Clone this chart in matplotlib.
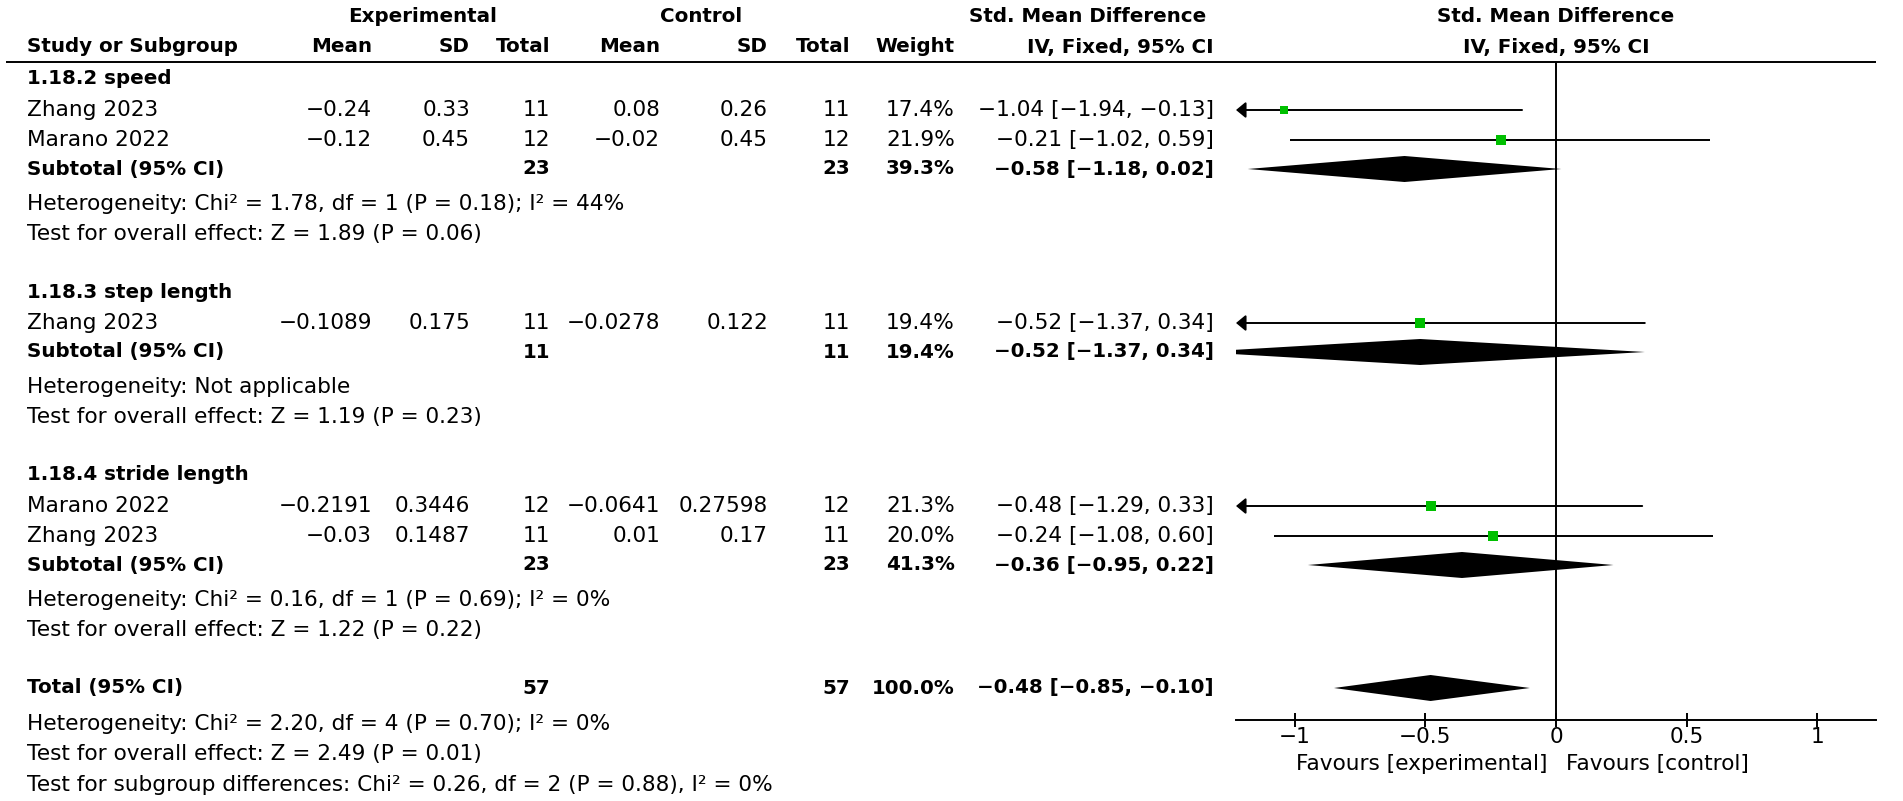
import matplotlib
matplotlib.use("Agg")
import matplotlib.pyplot as plt
import numpy as np

plt.rcParams['font.family'] = ['DejaVu Sans']

# ---------------- data ----------------
group_names = ["1.18.2 speed", "1.18.3 step length", "1.18.4 stride length"]

study_names = ["Zhang 2023", "Marano 2022", "Zhang 2023", "Marano 2022", "Zhang 2023"]
study_group = [0, 0, 1, 2, 2]
exp_mean = [-0.24, -0.12, -0.1089, -0.2191, -0.03]
exp_sd = [0.33, 0.45, 0.175, 0.3446, 0.1487]
exp_n = [11, 12, 11, 12, 11]
ctl_mean = [0.08, -0.02, -0.0278, -0.0641, 0.01]
ctl_sd = [0.26, 0.45, 0.122, 0.27598, 0.17]
ctl_n = [11, 12, 11, 12, 11]
weight = [17.4, 21.9, 19.4, 21.3, 20.0]
smd = [-1.04, -0.21, -0.52, -0.48, -0.24]
ci_lo = [-1.94, -1.02, -1.37, -1.29, -1.08]
ci_hi = [-0.13, 0.59, 0.34, 0.33, 0.60]

sub_exp_n = [23, 11, 23]
sub_ctl_n = [23, 11, 23]
sub_weight = [39.3, 19.4, 41.3]
sub_smd = [-0.58, -0.52, -0.36]
sub_lo = [-1.18, -1.37, -0.95]
sub_hi = [0.02, 0.34, 0.22]
sub_het = ["Heterogeneity: Chi² = 1.78, df = 1 (P = 0.18); I² = 44%",
           "Heterogeneity: Not applicable",
           "Heterogeneity: Chi² = 0.16, df = 1 (P = 0.69); I² = 0%"]
sub_test = ["Test for overall effect: Z = 1.89 (P = 0.06)",
            "Test for overall effect: Z = 1.19 (P = 0.23)",
            "Test for overall effect: Z = 1.22 (P = 0.22)"]

total_exp_n = 57
total_ctl_n = 57
total_weight = 100.0
total_smd = -0.48
total_lo = -0.85
total_hi = -0.10
total_notes = ["Heterogeneity: Chi² = 2.20, df = 4 (P = 0.70); I² = 0%",
               "Test for overall effect: Z = 2.49 (P = 0.01)",
               "Test for subgroup differences: Chi² = 0.26, df = 2 (P = 0.88), I² = 0%"]

xticks = [-1, -0.5, 0, 0.5, 1]
xtick_labels = ["−1", "−0.5", "0", "0.5", "1"]
favours_left = "Favours [experimental]"
favours_right = "Favours [control]"

# ---------------- layout (pixels) ----------------
W, H = 1903, 801
FS = 15.6
FSB = 14.3
GREEN = '#00c000'

col_left = 27
col_exp_mean, col_exp_sd, col_exp_n = 372, 470, 550
col_ctl_mean, col_ctl_sd, col_ctl_n = 660, 768, 850
col_weight, col_ci = 955, 1214

header_line_y = 62
axis_y = 720
plot_left, plot_right = 1236, 1876
xlim = (-1.225, 1.225)


def fmt(v):
    return f"{v:g}".replace("-", "−")


def fmt_ci(e, lo, hi):
    return f"{e:.2f} [{lo:.2f}, {hi:.2f}]".replace("-", "−")


fig = plt.figure(figsize=(W / 100, H / 100), dpi=100)
bg = fig.add_axes([0, 0, 1, 1])
bg.set_xlim(0, W)
bg.set_ylim(H, 0)
bg.axis('off')

ax = fig.add_axes([plot_left / W, (H - axis_y) / H,
                   (plot_right - plot_left) / W, (axis_y - header_line_y) / H])
ax.set_facecolor('none')
ax.set_xlim(*xlim)
ax.set_ylim(axis_y, header_line_y)


def put(x, y, s, ha='left', bold=False):
    bg.text(x, y, s, ha=ha, va='center', fontsize=FSB if bold else FS,
            fontweight='bold' if bold else 'normal', color='black')


# headers
put(423, 17, "Experimental", ha='center', bold=True)
put(701, 17, "Control", ha='center', bold=True)
put(1206, 17, "Std. Mean Difference", ha='right', bold=True)
put(1556, 17, "Std. Mean Difference", ha='center', bold=True)
hy = 47
put(col_left, hy, "Study or Subgroup", bold=True)
put(col_exp_mean, hy, "Mean", ha='right', bold=True)
put(col_exp_sd, hy, "SD", ha='right', bold=True)
put(col_exp_n, hy, "Total", ha='right', bold=True)
put(col_ctl_mean, hy, "Mean", ha='right', bold=True)
put(col_ctl_sd, hy, "SD", ha='right', bold=True)
put(col_ctl_n, hy, "Total", ha='right', bold=True)
put(col_weight, hy, "Weight", ha='right', bold=True)
put(col_ci, hy, "IV, Fixed, 95% CI", ha='right', bold=True)
put(1556, hy, "IV, Fixed, 95% CI", ha='center', bold=True)
bg.plot([6, plot_right], [header_line_y, header_line_y], color='black', lw=1.4,
        solid_capstyle='butt')

# rows
y = 79
DH = 13  # diamond half height (px)
for g, gname in enumerate(group_names):
    put(col_left, y, gname, bold=True)
    idx = [i for i, sg in enumerate(study_group) if sg == g]
    y += 31
    for k, i in enumerate(idx):
        if k > 0:
            y += 30
        put(col_left, y, study_names[i])
        put(col_exp_mean, y, fmt(exp_mean[i]), ha='right')
        put(col_exp_sd, y, fmt(exp_sd[i]), ha='right')
        put(col_exp_n, y, str(exp_n[i]), ha='right')
        put(col_ctl_mean, y, fmt(ctl_mean[i]), ha='right')
        put(col_ctl_sd, y, fmt(ctl_sd[i]), ha='right')
        put(col_ctl_n, y, str(ctl_n[i]), ha='right')
        put(col_weight, y, f"{weight[i]:.1f}%", ha='right')
        put(col_ci, y, fmt_ci(smd[i], ci_lo[i], ci_hi[i]), ha='right')
        # confidence interval line (arrow when it leaves the scale)
        if ci_lo[i] < xlim[0]:
            ax.annotate('', xy=(xlim[0], y), xytext=(ci_hi[i], y),
                        arrowprops=dict(arrowstyle='-|>,head_length=0.29,head_width=0.24',
                                        mutation_scale=20, lw=1.4, color='black',
                                        shrinkA=0, shrinkB=0))
        else:
            ax.plot([ci_lo[i], ci_hi[i]], [y, y], color='black', lw=1.4,
                    solid_capstyle='butt')
        side_px = 2.15 * np.sqrt(weight[i])
        ax.plot([smd[i]], [y], marker='s', ms=side_px * 0.72, color=GREEN,
                mec=GREEN, mew=0, zorder=4, linestyle='none')
    y += 29
    put(col_left, y, "Subtotal (95% CI)", bold=True)
    put(col_exp_n, y, str(sub_exp_n[g]), ha='right', bold=True)
    put(col_ctl_n, y, str(sub_ctl_n[g]), ha='right', bold=True)
    put(col_weight, y, f"{sub_weight[g]:.1f}%", ha='right', bold=True)
    put(col_ci, y, fmt_ci(sub_smd[g], sub_lo[g], sub_hi[g]), ha='right', bold=True)
    ax.fill([sub_lo[g], sub_smd[g], sub_hi[g], sub_smd[g]],
            [y, y - DH, y, y + DH], color='black', lw=0, zorder=3)
    y += 35
    put(col_left, y, sub_het[g])
    y += 30
    put(col_left, y, sub_test[g])
    y += 58

# overall total
put(col_left, y, "Total (95% CI)", bold=True)
put(col_exp_n, y, str(total_exp_n), ha='right', bold=True)
put(col_ctl_n, y, str(total_ctl_n), ha='right', bold=True)
put(col_weight, y, f"{total_weight:.1f}%", ha='right', bold=True)
put(col_ci, y, fmt_ci(total_smd, total_lo, total_hi), ha='right', bold=True)
ax.fill([total_lo, total_smd, total_hi, total_smd],
        [y, y - DH, y, y + DH], color='black', lw=0, zorder=3)
y += 36
for k, note in enumerate(total_notes):
    put(col_left, y, note)
    y += 30 if k == 0 else 31

# axis styling
ax.axvline(0, color='black', lw=1.4, zorder=2)
for s in ['top', 'left', 'right']:
    ax.spines[s].set_visible(False)
ax.spines['bottom'].set_linewidth(1.4)
ax.set_yticks([])
ax.set_xticks(xticks)
ax.set_xticklabels(xtick_labels, fontsize=FS)
ax.tick_params(axis='x', direction='inout', length=10, width=1.4, pad=0)

# favours labels
put(1547, 764, favours_left, ha='right')
put(1566, 764, favours_right, ha='left')

fig.savefig('out.png', dpi=100)
